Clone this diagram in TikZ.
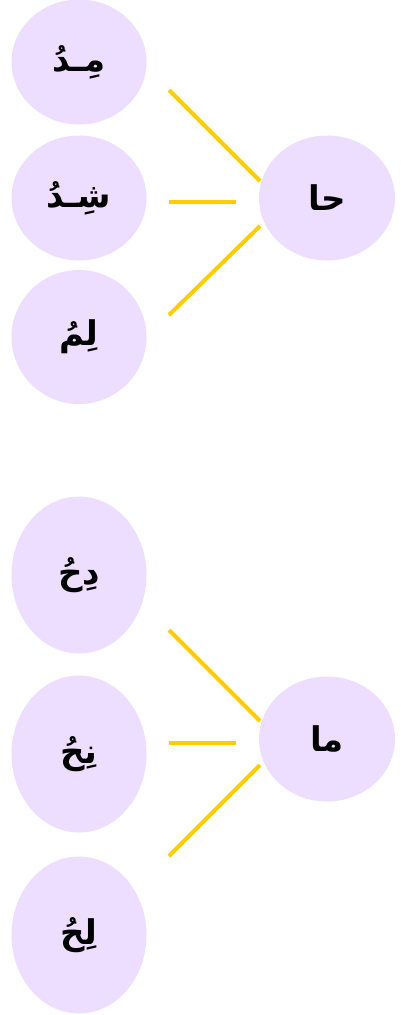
\documentclass[tikz,border=0pt]{standalone}
\usepackage{fontspec}
\usetikzlibrary{shapes.geometric}
\newfontfamily\arabicfont[Script=Arabic]{DejaVu Sans}
\TeXXeTstate=1
\definecolor{bubble}{RGB}{237,222,255}
\definecolor{gold}{RGB}{255,204,0}
\begin{document}
\begin{tikzpicture}[x=1pt,y=-1pt,
  bub/.style={ellipse,fill=bubble,draw=none,inner sep=0pt,font=\arabicfont\bfseries\fontsize{34}{40}\selectfont},
  link/.style={draw=gold,line width=4pt}]
\useasboundingbox (0,0) rectangle (401,1015);
\node[bub,minimum width=135pt,minimum height=125pt] (a1) at (79,62) {\beginR مِـدُ\endR};
\node[bub,minimum width=135pt,minimum height=125pt] (a2) at (79,198) {\beginR شِـدُ\endR};
\node[bub,minimum width=135pt,minimum height=134pt] (a3) at (79,337) {\beginR لِمُ\endR};
\node[bub,minimum width=136pt,minimum height=125pt] (ha) at (327,198) {\beginR حا\endR};
\node[bub,minimum width=135pt,minimum height=157pt] (b1) at (79,575) {\beginR دِحُ\endR};
\node[bub,minimum width=135pt,minimum height=157pt] (b2) at (79,754) {\beginR نِحُ\endR};
\node[bub,minimum width=135pt,minimum height=157pt] (b3) at (79,935) {\beginR لِحُ\endR};
\node[bub,minimum width=136pt,minimum height=125pt] (ma) at (327,739) {\beginR ما\endR};
\coordinate (p1) at (169,90);  \coordinate (q1) at (260,181);
\coordinate (p2) at (169,202); \coordinate (q2) at (236,202);
\coordinate (p3) at (169,315); \coordinate (q3) at (260,226);
\coordinate (r1) at (169,630); \coordinate (s1) at (260,721);
\coordinate (r2) at (169,743); \coordinate (s2) at (236,743);
\coordinate (r3) at (169,856); \coordinate (s3) at (260,765);
\draw[link] (p1) -- (q1);
\draw[link] (p2) -- (q2);
\draw[link] (p3) -- (q3);
\draw[link] (r1) -- (s1);
\draw[link] (r2) -- (s2);
\draw[link] (r3) -- (s3);
\end{tikzpicture}
\end{document}
